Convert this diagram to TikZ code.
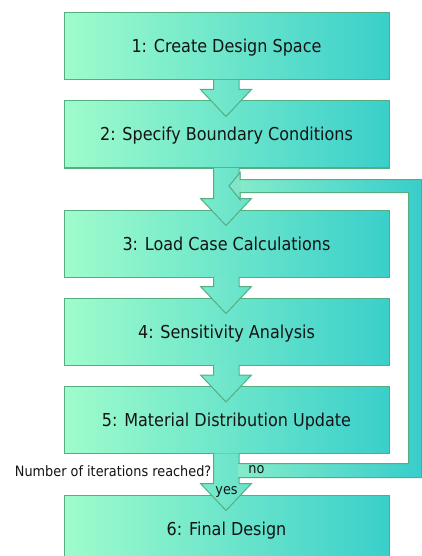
\documentclass[tikz,border=0pt]{standalone}
\usepackage{fontspec}
\setmainfont{DejaVu Sans}[FakeStretch=0.9]
\usetikzlibrary{calc}
\definecolor{boxL}{HTML}{9FFCCB}
\definecolor{boxR}{HTML}{3ACFCB}
\definecolor{edge}{HTML}{55AE80}
\definecolor{arrL}{HTML}{78EACB}
\definecolor{arrR}{HTML}{66E2CB}
\definecolor{loopL}{HTML}{88EDCA}
\definecolor{loopR}{HTML}{38CDCB}
\definecolor{headfill}{HTML}{82E4C9}
\newcommand\blockarr[2]{%
  \draw[arrowsty] ($(#1.south)+(-13,-0.7)$) -- ($(#2.north)+(-13,-11)$) -- ($(#2.north)+(-26,-11)$)
    -- ($(#2.north)+(-0.5,16)$) -- ($(#2.north)+(25,-11)$) -- ($(#2.north)+(12.5,-11)$)
    -- ($(#1.south)+(12.5,-0.7)$);}
\begin{document}
\begin{tikzpicture}[x=1pt,y=-1pt,
  stepbox/.style={draw=edge, line width=1pt, left color=boxL, right color=boxR,
    minimum width=325pt, minimum height=67pt, inner sep=0pt,
    font=\fontsize{17.8}{20}\selectfont, text height=13pt, text depth=0pt, text=black!92},
  arrowsty/.style={draw=edge, line width=1pt, left color=arrL, right color=arrR},
  lbl/.style={font=\fontsize{14.3}{16}\selectfont, inner sep=0pt, text=black!92}]
\useasboundingbox (0,0) rectangle (422,556);
\clip (0,0) rectangle (422,556);
\fill[white] (0,0) rectangle (422,556);

\node[stepbox] (b1) at (226.5,46.5) {1: Create Design Space};
\node[stepbox] (b2) at (226.5,134.5) {2: Specify Boundary Conditions};
\node[stepbox] (b3) at (226.5,243.5) {3: Load Case Calculations};
\node[stepbox] (b4) at (226.5,331.5) {4: Sensitivity Analysis};
\node[stepbox] (b5) at (226.5,420) {5: Material Distribution Update};
\node[stepbox] (b6) at (226.5,528.5) {6: Final Design};

\blockarr{b1}{b2}
\blockarr{b2}{b3}
\blockarr{b3}{b4}
\blockarr{b4}{b5}
\blockarr{b5}{b6}

% feedback loop
\coordinate (lpO) at ($(b3.east)+(32,0)$);
\coordinate (lpI) at ($(b3.east)+(19,0)$);
\fill[left color=loopL, right color=loopR]
  ($(b5.south)+(11.6,23.5)$) -- ($(b5.south -| lpO)+(0,23.5)$) -- ($(b2.south -| lpO)+(0,11)$)
  -- ($(b2.south)+(13.5,11)$) -- ($(b2.south)+(13.5,4)$) -- ($(b2.south)+(2.5,17.5)$)
  -- ($(b2.south)+(13.5,31)$) -- ($(b2.south)+(13.5,24)$) -- ($(b2.south -| lpI)+(0,24)$)
  -- ($(b5.south -| lpI)+(0,9.5)$) -- ($(b5.south)+(11.6,9.5)$) -- cycle;
\fill[headfill] ($(b2.south)+(14,4)$) -- ($(b2.south)+(2.5,17.5)$) -- ($(b2.south)+(14,31)$) -- cycle;
\draw[edge, line width=1pt, line join=miter]
  ($(b5.south)+(12.5,23.5)$) -- ($(b5.south -| lpO)+(0,23.5)$) -- ($(b2.south -| lpO)+(0,11)$)
  -- ($(b2.south)+(13.5,11)$) -- ($(b2.south)+(13.5,4)$) -- ($(b2.south)+(2.5,17.5)$)
  -- ($(b2.south)+(13.5,31)$) -- ($(b2.south)+(13.5,24)$) -- ($(b2.south -| lpI)+(0,24)$)
  -- ($(b5.south -| lpI)+(0,9.5)$) -- ($(b5.south)+(12.5,9.5)$);

\node[lbl, anchor=base east] (q) at (211.5,476) {Number of iterations reached?};
\node[lbl, anchor=base] (no) at (256.5,473) {no};
\node[lbl, anchor=base] (yes) at (226.5,494) {yes};
\end{tikzpicture}
\end{document}
